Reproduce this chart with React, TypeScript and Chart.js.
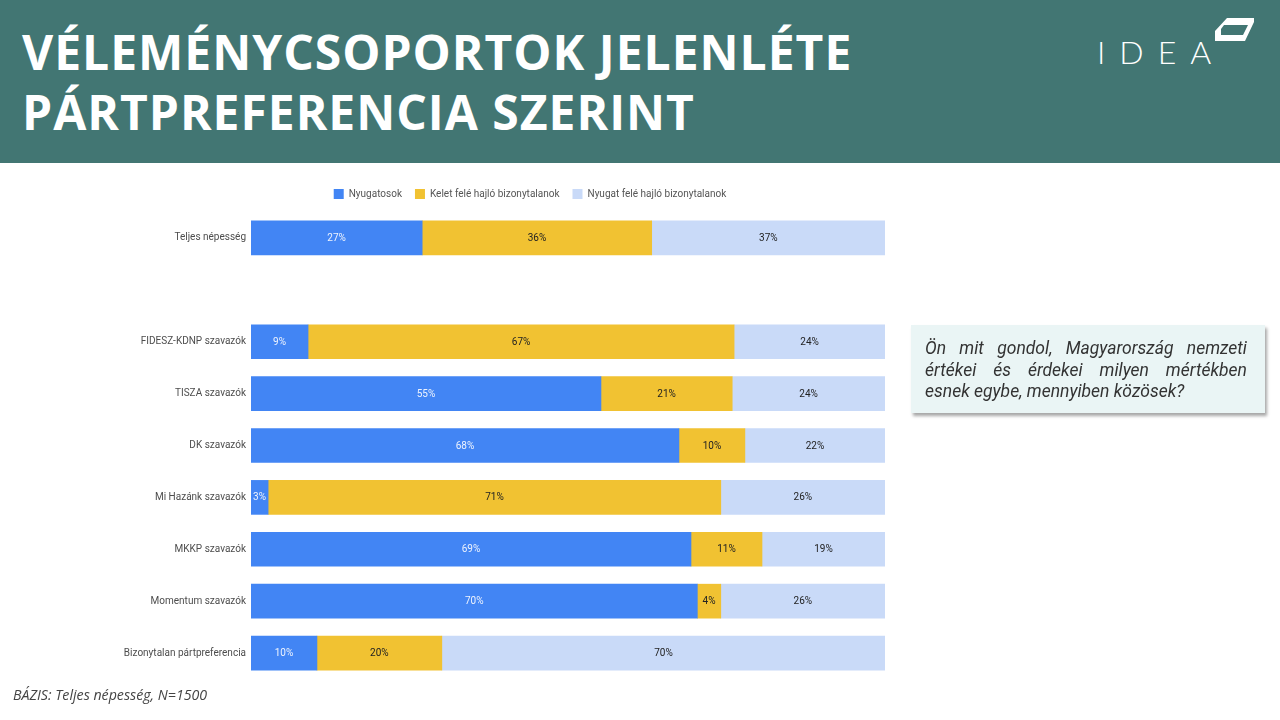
import React, { useEffect, useRef } from "react";
import { Chart, registerables } from "chart.js";

Chart.register(...registerables);

const categories = [
  "Teljes népesség",
  "",
  "FIDESZ-KDNP szavazók",
  "TISZA szavazók",
  "DK szavazók",
  "Mi Hazánk szavazók",
  "MKKP szavazók",
  "Momentum szavazók",
  "Bizonytalan pártpreferencia",
];

const seriesNames = ["Nyugatosok", "Kelet felé hajló bizonytalanok", "Nyugat felé hajló bizonytalanok"];

const nyugatosok = [27.0, null, 9.0, 55.2, 67.5, 2.7, 69.4, 70.4, 10.4];
const keletFele = [36.2, null, 67.2, 20.7, 10.4, 71.4, 11.2, 3.7, 19.7];
const nyugatFele = [36.8, null, 23.8, 24.1, 22.1, 25.9, 19.4, 25.9, 69.9];

const colors = ["#4285F4", "#F1C232", "#C9DAF8"];
const labelColors = ["#EEF3FD", "#222222", "#222222"];

const CANVAS_LEFT = 100;
const CANVAS_W = 860;

const dataLabelPlugin = {
  id: "segmentLabels",
  afterLayout(chart: any) {
    // centre the legend on the whole canvas and lift it slightly
    const lg = chart.legend;
    if (lg) {
      const w = chart.chartArea.right;
      lg.left = CANVAS_W / 2 - w / 2;
      lg.right = lg.left + w;
      lg.top -= 3;
      lg.bottom -= 3;
    }
  },
  afterDatasetsDraw(chart: any) {
    const ctx = chart.ctx;
    ctx.save();
    ctx.font = "10px Roboto";
    ctx.textAlign = "center";
    ctx.textBaseline = "middle";
    chart.data.datasets.forEach((ds: any, di: number) => {
      const meta = chart.getDatasetMeta(di);
      meta.data.forEach((el: any, i: number) => {
        const v = ds.data[i];
        if (v == null) return;
        const { x, y, base } = el.getProps(["x", "y", "base"], true);
        ctx.fillStyle = labelColors[di];
        ctx.fillText(Math.round(v) + "%", (x + base) / 2, y + 0.5);
      });
    });
    ctx.restore();
  },
};

function BarChart() {
  const ref = useRef<HTMLCanvasElement | null>(null);
  useEffect(() => {
    if (!ref.current) return;
    const chart = new Chart(ref.current, {
      type: "bar",
      data: {
        labels: categories,
        datasets: [nyugatosok, keletFele, nyugatFele].map((d, i) => ({
          label: seriesNames[i],
          data: d,
          backgroundColor: colors[i],
          borderWidth: 0,
          barThickness: 34,
        })),
      },
      options: {
        indexAxis: "y",
        animation: false,
        responsive: false,
        maintainAspectRatio: false,
        layout: { padding: { top: 9, right: 75, bottom: 11, left: 0 } },
        scales: {
          x: {
            stacked: true,
            min: 0,
            max: 100,
            display: false,
          },
          y: {
            stacked: true,
            grid: { display: false, drawTicks: false },
            border: { display: false },
            ticks: {
              color: "#4d4d4d",
              font: { family: "Roboto", size: 10 },
              padding: 5,
            },
            afterFit: (s: any) => {
              s.width = 151;
            },
          },
        },
        plugins: {
          legend: {
            position: "top",
            labels: {
              boxWidth: 10,
              boxHeight: 10,
              padding: 13,
              color: "#555555",
              font: { family: "Roboto", size: 10 },
            },
          },
          tooltip: { enabled: false },
        },
      },
      plugins: [dataLabelPlugin],
    } as any);
    return () => chart.destroy();
  }, []);
  return (
    <canvas
      ref={ref}
      width={CANVAS_W}
      height={520}
      style={{ position: "absolute", left: CANVAS_LEFT, top: 170, width: CANVAS_W, height: 520 }}
    />
  );
}

const lineStyle: React.CSSProperties = { display: "block", textAlign: "justify", textAlignLast: "justify" };

export default function App() {
  return (
    <div style={{ position: "relative", width: 1280, height: 720, overflow: "hidden", background: "#fff" }}>
      <style>{`body{margin:0}`}</style>
      <div style={{ position: "absolute", left: 0, top: 0, width: 1280, height: 163, background: "#427673" }} />
      <div
        style={{
          position: "absolute",
          left: 22,
          top: 22,
          color: "#fff",
          fontFamily: "'Open Sans', sans-serif",
          fontWeight: 700,
          fontSize: 48,
          letterSpacing: 1,
          lineHeight: "60px",
          whiteSpace: "nowrap",
        }}
      >
        VÉLEMÉNYCSOPORTOK JELENLÉTE
        <br />
        PÁRTPREFERENCIA SZERINT
      </div>
      <div
        style={{
          position: "absolute",
          left: 1097,
          top: 34,
          color: "#fff",
          fontFamily: "Lato, sans-serif",
          fontWeight: 300,
          fontSize: 32,
          letterSpacing: 14,
          lineHeight: "36px",
        }}
      >
        IDEA
      </div>
      <svg style={{ position: "absolute", left: 1213, top: 16 }} width={44} height={28} viewBox="0 0 44 28">
        <path
          d="M14 2 L41 2 L41 6 L32 25 L2 25 L2 15 Z M11 9 L35 9 L30 19 L8 19 L8 13 Z"
          fill="#fff"
          fillRule="evenodd"
        />
      </svg>
      <BarChart />
      <div
        style={{
          position: "absolute",
          left: 911,
          top: 325,
          width: 354,
          height: 88,
          boxSizing: "border-box",
          background: "#EAF5F5",
          boxShadow: "2px 3px 3px rgba(0,0,0,0.35)",
          padding: "13px 18px 0 14px",
          fontFamily: "Roboto, sans-serif",
          fontStyle: "italic",
          fontSize: 17.5,
          lineHeight: "21.5px",
          color: "#333",
        }}
      >
        <span style={lineStyle}>Ön mit gondol, Magyarország nemzeti</span>
        <span style={lineStyle}>értékei és érdekei milyen mértékben</span>
        <span style={{ display: "block" }}>esnek egybe, mennyiben közösek?</span>
      </div>
      <div
        style={{
          position: "absolute",
          left: 13,
          top: 685,
          fontFamily: "'Open Sans', sans-serif",
          fontStyle: "italic",
          fontSize: 14.2,
          color: "#444",
        }}
      >
        BÁZIS: Teljes népesség, N=1500
      </div>
    </div>
  );
}
